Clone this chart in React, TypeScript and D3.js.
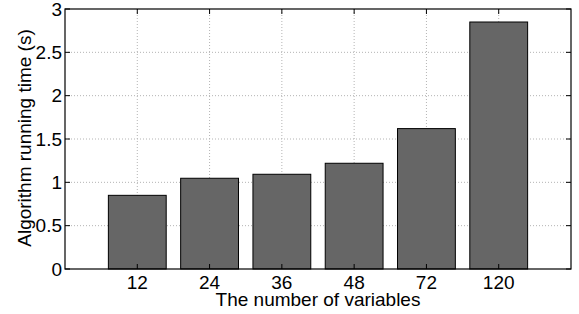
import * as d3 from "d3";

const categories = ["12", "24", "36", "48", "72", "120"];
const runTimes = [0.85, 1.047, 1.093, 1.22, 1.62, 2.85];
const yTicks = [0, 0.5, 1, 1.5, 2, 2.5, 3];

const App = () => {
  const W = 579,
    H = 314;
  const margin = { top: 9, right: 8, bottom: 45, left: 65 };
  const width = W - margin.left - margin.right;
  const height = H - margin.top - margin.bottom;

  // matlab style: bars at 1..n, xlim [0, n+1]
  const x = d3.scaleLinear().domain([0, categories.length + 1]).range([0, width]);
  const y = d3.scaleLinear().domain([0, 3]).range([height, 0]);
  const barW = x(0.8) - x(0);
  const font = "'Liberation Sans', Arial, Helvetica, sans-serif";
  const fs = 19;

  return (
    <div style={{ position: "fixed", left: 0, top: 0 }}>
      <svg width={W} height={H} style={{ display: "block", background: "#fff" }}>
        <g transform={`translate(${margin.left},${margin.top})`}>
          {/* grid */}
          {yTicks.slice(1, -1).map((t) => (
            <line key={"gy" + t} x1={0} x2={width} y1={y(t)} y2={y(t)}
              stroke="#b4b4b4" strokeWidth={1} strokeDasharray="1,2" />
          ))}
          {categories.map((c, i) => (
            <line key={"gx" + c} x1={x(i + 1)} x2={x(i + 1)} y1={0} y2={height}
              stroke="#b4b4b4" strokeWidth={1} strokeDasharray="1,2" />
          ))}
          {/* bars */}
          {runTimes.map((v, i) => (
            <rect key={categories[i]} x={x(i + 1) - barW / 2} y={y(v)} width={barW}
              height={height - y(v)} fill="#666666" stroke="#000" strokeWidth={1} />
          ))}
          {/* ticks */}
          {yTicks.map((t) => (
            <g key={"ty" + t}>
              <line x1={0} x2={5} y1={y(t)} y2={y(t)} stroke="#000" />
              <line x1={width - 5} x2={width} y1={y(t)} y2={y(t)} stroke="#000" />
              <text x={-3} y={y(t)} dy="0.35em" textAnchor="end" fontSize={fs} fontFamily={font}>
                {t}
              </text>
            </g>
          ))}
          {categories.map((c, i) => (
            <g key={"tx" + c}>
              <line x1={x(i + 1)} x2={x(i + 1)} y1={height} y2={height - 5} stroke="#000" />
              <line x1={x(i + 1)} x2={x(i + 1)} y1={0} y2={5} stroke="#000" />
              <text x={x(i + 1)} y={height + 19.5} textAnchor="middle" fontSize={fs} fontFamily={font}>
                {c}
              </text>
            </g>
          ))}
          <rect x={0} y={0} width={width} height={height} fill="none" stroke="#000" strokeWidth={1.2} />
        </g>
        <text x={318} y={306} textAnchor="middle" fontSize={fs} fontFamily={font}>
          The number of variables
        </text>
        <text transform="translate(31,138) rotate(-90)" textAnchor="middle" fontSize={fs} fontFamily={font}>
          Algorithm running time (s)
        </text>
      </svg>
    </div>
  );
};

export default App;
